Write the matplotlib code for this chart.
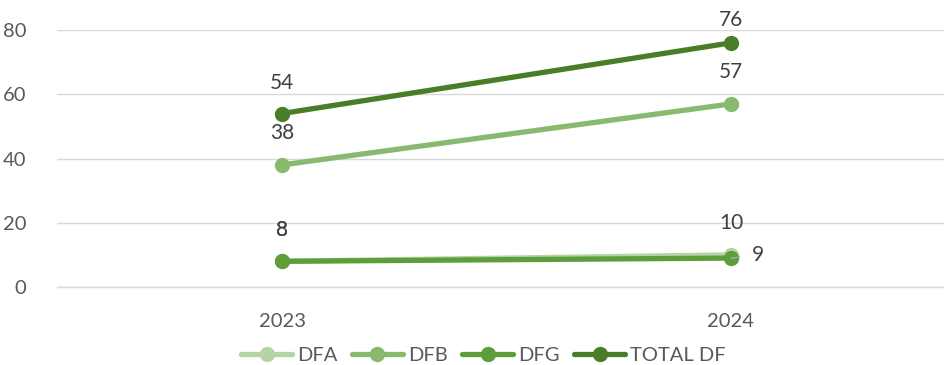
import matplotlib.pyplot as plt

years = ["2023", "2024"]
series = ["DFA", "DFB", "DFG", "TOTAL DF"]
dfa = [8, 10]
dfb = [38, 57]
dfg = [8, 9]
total = [54, 76]
colors = ["#b5d3a5", "#88b96f", "#5d9e38", "#4a7d28"]

plt.rcParams['font.family'] = ['Lato', 'DejaVu Sans']

fig = plt.figure(figsize=(9.44, 3.65), dpi=100)
W, H = 944, 365
ax = fig.add_axes([57 / W, 1 - 287 / H, (944 - 57) / W, (287 - 30) / H])

x = list(range(len(years)))
values = [dfa, dfb, dfg, total]
for name, vals, col in zip(series, values, colors):
    ax.plot(x, vals, color=col, lw=3.8, marker="o", ms=10, label=name,
            solid_capstyle="round", clip_on=False, zorder=3)

# data labels (offset in pixels above the point)
txt = dict(ha="center", va="center", fontsize=15, color="#404040",
           textcoords="offset pixels")
ax.annotate("8", (0, dfa[0]), xytext=(0, 31), **txt)
ax.annotate("10", (1, dfa[1]), xytext=(0, 32), **txt)
ax.annotate("38", (0, dfb[0]), xytext=(0, 32), **txt)
ax.annotate("57", (1, dfb[1]), xytext=(0, 32), **txt)
ax.annotate("8", (0, dfg[0]), xytext=(0, 31), **txt)
ax.annotate("9", (1, dfg[1]), xytext=(27, 3),
            arrowprops=dict(arrowstyle="-", color="#a6a6a6", lw=1,
                            shrinkA=7, shrinkB=0), **txt)
ax.annotate("54", (0, total[0]), xytext=(0, 31), **txt)
ax.annotate("76", (1, total[1]), xytext=(0, 23), **txt)

ax.set_xlim(-225 / 449, 1 + 213 / 449)
ax.set_ylim(0, 80)
ax.set_yticks([0, 20, 40, 60, 80])
ax.set_xticks(x)
ax.set_xticklabels(years)
ax.grid(axis="y", color="#d9d9d9", lw=1)
ax.axhline(0, color="#d9d9d9", lw=1, clip_on=False, zorder=1)
ax.set_axisbelow(True)
for s in ax.spines.values():
    s.set_visible(False)
ax.tick_params(length=0, labelsize=14.5, labelcolor="#595959")
ax.tick_params(axis="y", pad=22)
ax.tick_params(axis="x", pad=19)

ax.legend(loc="center", bbox_to_anchor=((483.5 - 57) / 887, -0.265), ncol=4,
          frameon=False, fontsize=14.5, labelcolor="#595959",
          handlelength=2.55, columnspacing=0.7, handletextpad=0.25)

fig.savefig("out.png", dpi=100)
